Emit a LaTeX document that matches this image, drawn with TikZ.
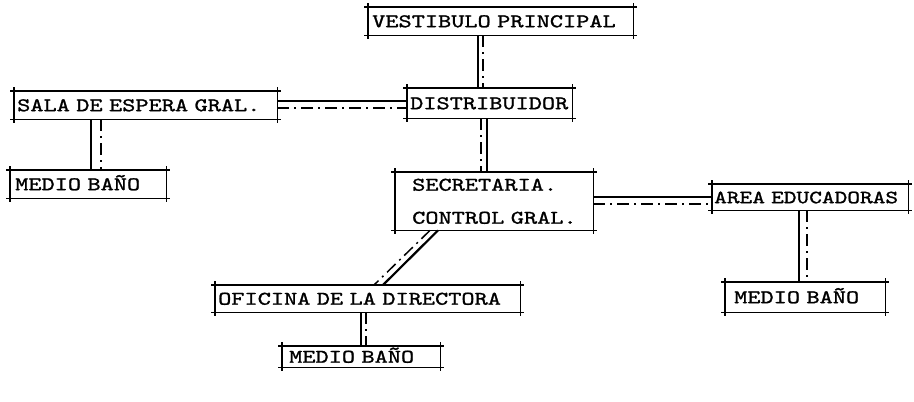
\documentclass[tikz,border=0pt]{standalone}
\usepackage{fontspec}
\usetikzlibrary{calc}
\newfontfamily\roomfont{lmmono10-regular}[Extension=.otf, FakeStretch=1.3, FakeBold=1.3]
\begin{document}
\begin{tikzpicture}[x=1pt,y=-1pt,
  room/.style={font=\roomfont\fontsize{19.3}{33}\selectfont, anchor=north west,
    inner ysep=0pt, align=left, text height=12pt, text depth=0pt},
  boxline/.style={line width=1.4pt},
  solidline/.style={line width=2.2pt},
  dashline/.style={line width=1.5pt, dash pattern=on 12pt off 5pt on 2pt off 5pt}]
\useasboundingbox[fill=white] (0,0) rectangle (914,402);

% rooms (x1,y1), width w, height h, pad p -> text width = w-2p
\node[room, inner xsep=4pt, text width=257pt, minimum height=28pt] (vest) at (368,7) {VESTIBULO~PRINCIPAL};
\node[room, inner xsep=3pt, text width=159pt, minimum height=30pt] (dist) at (407,88) {DISTRIBUIDOR};
\node[room, inner xsep=3pt, text width=257pt, minimum height=28pt] (sala) at (14,91) {SALA~DE~ESPERA~GRAL.};
\node[room, inner xsep=5pt, text width=146pt, minimum height=28pt] (mbA) at (10,170) {MEDIO~BAÑO};
\node[room, inner xsep=17pt, text width=164pt, minimum height=58pt, text depth=33pt] (secr) at (395,172) {SECRETARIA.\\CONTROL~GRAL.};
\node[room, inner xsep=2pt, text width=192pt, minimum height=26pt, font=\roomfont\fontsize{18.6}{33}\selectfont] (area) at (712,184) {AREA~EDUCADORAS};
\node[room, inner xsep=9pt, text width=142pt, minimum height=30pt] (mbB) at (725,282) {MEDIO~BAÑO};
\node[room, inner xsep=3pt, text width=299pt, minimum height=27pt] (ofi) at (215,285) {OFICINA~DE~LA~DIRECTORA};
\node[room, inner xsep=7pt, text width=144pt, minimum height=21pt] (mbC) at (282,346) {MEDIO~BAÑO};

% box outlines with overhanging corners
\foreach \n in {vest,dist,sala,mbA,secr,area,mbB,ofi,mbC} {
  \draw[boxline] ($(\n.north west)+(-4,0)$) -- ($(\n.north east)+(4,0)$);
  \draw[boxline] ($(\n.south west)+(-4,0)$) -- ($(\n.south east)+(4,0)$);
  \draw[boxline] ($(\n.north west)+(0,-4)$) -- ($(\n.south west)+(0,4)$);
  \draw[boxline] ($(\n.north east)+(0,-4)$) -- ($(\n.south east)+(0,4)$);
}

% connectors: one solid and one dashed line side by side
\draw[solidline] (vest.south -| 478,0) -- (dist.north -| 478,0);
\draw[dashline]  (vest.south -| 483,0) -- (dist.north -| 483,0);

\draw[solidline] (sala.east |- 0,101) -- (dist.west |- 0,101);
\draw[dashline]  (sala.east |- 0,108) -- (dist.west |- 0,108);

\draw[solidline] (sala.south -| 91,0) -- (mbA.north -| 91,0);
\draw[dashline]  (sala.south -| 101,0) -- (mbA.north -| 101,0);

\draw[dashline]  (dist.south -| 481,0) -- (secr.north -| 481,0);
\draw[solidline] (dist.south -| 487,0) -- (secr.north -| 487,0);

\draw[solidline] (secr.east |- 0,197) -- (area.west |- 0,197);
\draw[dashline]  (secr.east |- 0,204) -- (area.west |- 0,204);

\draw[solidline] (area.south -| 799,0) -- (mbB.north -| 799,0);
\draw[dashline]  (area.south -| 807,0) -- (mbB.north -| 807,0);

\draw[solidline] (secr.south -| 438,0) -- (ofi.north -| 383,0);
\draw[dashline]  (secr.south -| 430,0) -- (ofi.north -| 374,0);

\draw[solidline] (ofi.south -| 361,0) -- (mbC.north -| 361,0);
\draw[dashline]  (ofi.south -| 366,0) -- (mbC.north -| 366,0);
\end{tikzpicture}
\end{document}
